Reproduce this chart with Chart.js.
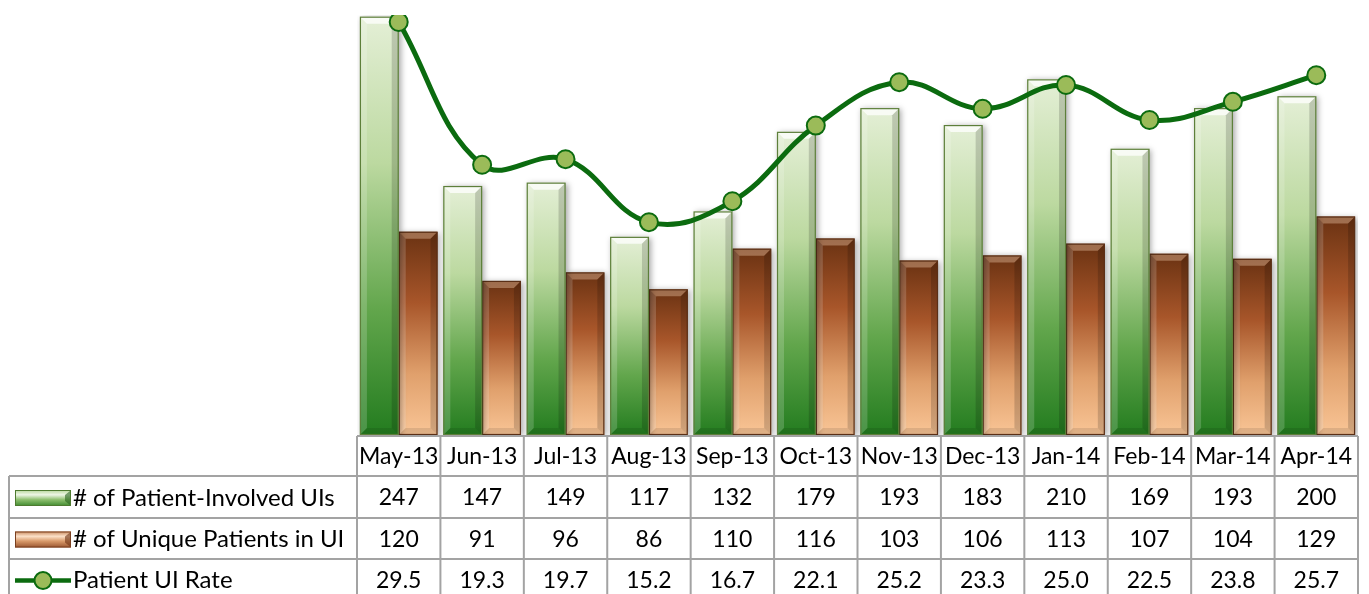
<!DOCTYPE html>
<html>
<head>
<meta charset="utf-8">
<script src="https://cdn.jsdelivr.net/npm/chart.js@4.4.1/dist/chart.umd.min.js"></script>
<style>
html,body{margin:0;padding:0;background:#fff;}
#wrap{width:1369px;height:594px;position:relative;}
</style>
</head>
<body>
<div id="wrap"><canvas id="c" width="1369" height="594"></canvas></div>
<script>
const categories = ['May-13','Jun-13','Jul-13','Aug-13','Sep-13','Oct-13','Nov-13','Dec-13','Jan-14','Feb-14','Mar-14','Apr-14'];
const involvedUIs = [247,147,149,117,132,179,193,183,210,169,193,200];
const uniquePatients = [120,91,96,86,110,116,103,106,113,107,104,129];
const uiRate = [29.5,19.3,19.7,15.2,16.7,22.1,25.2,23.3,25.0,22.5,23.8,25.7];
const seriesNames = ['# of Patient-Involved UIs','# of Unique Patients in UI','Patient UI Rate'];

const CELL_FONT = '23px Lato';
const NAME_FONT = '24px Lato';

function barGradient(ctx, stops, fallback){
  const c = ctx.chart;
  const ys = c.scales && c.scales.y;
  if(!ys || !c.chartArea || ctx.raw === undefined) return fallback;
  const top = ys.getPixelForValue(ctx.raw);
  const bot = ys.getPixelForValue(0);
  if(!isFinite(top) || !isFinite(bot)) return fallback;
  const g = c.ctx.createLinearGradient(0, top, 0, bot);
  stops.forEach(s => g.addColorStop(s[0], s[1]));
  return g;
}
const greenStops = [[0,'#e4efd6'],[0.35,'#bcd9a0'],[0.7,'#62a64c'],[1,'#237c1f']];
const orangeStops = [[0,'#6a3212'],[0.35,'#a8562a'],[0.7,'#e0a06c'],[1,'#f9c596']];

const bevelPlugin = {
  id:'bevel',
  beforeDatasetDraw(chart, args){
    const ds = chart.data.datasets[args.index];
    if(ds.type !== 'bar') return;
    const ctx = chart.ctx;
    ctx.save();
    ctx.shadowColor = 'rgba(0,0,0,0.35)';
    ctx.shadowBlur = 6;
    ctx.shadowOffsetX = 2;
    ctx.shadowOffsetY = 1;
  },
  afterDatasetDraw(chart, args){
    const ds = chart.data.datasets[args.index];
    if(ds.type !== 'bar') return;
    const ctx = chart.ctx;
    ctx.restore();
    const isGreen = ds.label === seriesNames[0];
    const b = 7;
    args.meta.data.forEach(el => {
      const p = el.getProps(['x','y','base','width'], true);
      const L = p.x - p.width/2, R = p.x + p.width/2, T = p.y, B = p.base;
      ctx.save();
      ctx.beginPath();
      ctx.moveTo(L,T); ctx.lineTo(R,T); ctx.lineTo(R-b,T+b); ctx.lineTo(L+b,T+b); ctx.closePath();
      ctx.fillStyle = isGreen ? 'rgba(255,255,255,0.75)' : 'rgba(255,220,190,0.35)';
      ctx.fill();
      ctx.beginPath();
      ctx.moveTo(L,T); ctx.lineTo(L+b,T+b); ctx.lineTo(L+b,B-b); ctx.lineTo(L,B); ctx.closePath();
      ctx.fillStyle = 'rgba(255,255,255,0.18)';
      ctx.fill();
      ctx.beginPath();
      ctx.moveTo(R,T); ctx.lineTo(R-b,T+b); ctx.lineTo(R-b,B-b); ctx.lineTo(R,B); ctx.closePath();
      ctx.fillStyle = 'rgba(0,0,0,0.16)';
      ctx.fill();
      ctx.beginPath();
      ctx.moveTo(L,B); ctx.lineTo(L+b,B-b); ctx.lineTo(R-b,B-b); ctx.lineTo(R,B); ctx.closePath();
      ctx.fillStyle = 'rgba(0,0,0,0.10)';
      ctx.fill();
      ctx.strokeStyle = isGreen ? '#5d7f3a' : '#5a2f16';
      ctx.lineWidth = 1.2;
      ctx.strokeRect(L+0.5, T+0.5, p.width-1, B-T-1);
      ctx.restore();
    });
  }
};

const tablePlugin = {
  id:'dataTable',
  afterDraw(chart){
    const ctx = chart.ctx;
    const xs = chart.scales.x;
    const area = chart.chartArea;
    const n = categories.length;
    const colW = (area.right - area.left) / n;
    const tableLeft = 9;
    const rowTops = [area.bottom + 1, 476, 518, 559, 600];
    ctx.save();
    ctx.strokeStyle = '#a3a3a3';
    ctx.lineWidth = 2;
    ctx.beginPath();
    ctx.moveTo(area.left, rowTops[0]); ctx.lineTo(area.right, rowTops[0]);
    for(let r=1;r<4;r++){ ctx.moveTo(tableLeft, rowTops[r]); ctx.lineTo(area.right, rowTops[r]); }
    for(let i=0;i<=n;i++){
      const x = area.left + i*colW;
      ctx.moveTo(x, rowTops[0]); ctx.lineTo(x, rowTops[4]);
    }
    ctx.moveTo(tableLeft, rowTops[1]); ctx.lineTo(tableLeft, rowTops[4]);
    ctx.stroke();

    ctx.fillStyle = '#000';
    ctx.font = CELL_FONT;
    ctx.textAlign = 'center';
    ctx.textBaseline = 'middle';
    const rows = [categories, involvedUIs.map(String), uniquePatients.map(String), uiRate.map(v=>v.toFixed(1))];
    rows.forEach((row, r) => {
      const cy = (rowTops[r] + rowTops[r+1]) / 2 + 1;
      row.forEach((t, i) => {
        ctx.fillText(t, xs.getPixelForValue(i), cy);
      });
    });
    ctx.textAlign = 'left';
    ctx.font = NAME_FONT;
    const symL = 15, symR = 71;
    for(let r=1;r<=3;r++){
      const cy = (rowTops[r] + rowTops[r+1]) / 2 + 1;
      ctx.fillStyle = '#000';
      ctx.fillText(seriesNames[r-1], 73, cy);
      if(r < 3){
        const top = cy - 8, h = 16;
        const g = ctx.createLinearGradient(0, top, 0, top+h);
        const st = r===1 ? [[0,'#b6d69a'],[0.3,'#eef6e6'],[0.6,'#8fc070'],[1,'#3f8a2e']] : [[0,'#c98a5e'],[0.3,'#fbe0c8'],[0.6,'#d99a6a'],[1,'#9a5530']];
        st.forEach(s=>g.addColorStop(s[0], s[1]));
        ctx.fillStyle = g;
        ctx.fillRect(symL, top, symR-symL, h);
        ctx.strokeStyle = r===1 ? '#4e7a30' : '#7a4020';
        ctx.lineWidth = 1;
        ctx.strokeRect(symL+0.5, top+0.5, symR-symL-1, h-1);
        ctx.fillStyle = r===1 ? 'rgba(40,100,30,0.6)' : 'rgba(110,50,20,0.6)';
        ctx.beginPath(); ctx.moveTo(symR-1,top+1); ctx.lineTo(symR-6,top+5); ctx.lineTo(symR-6,top+h-5); ctx.lineTo(symR-1,top+h-1); ctx.closePath(); ctx.fill();
      } else {
        ctx.strokeStyle = '#0b6b0f';
        ctx.lineWidth = 4.5;
        ctx.beginPath(); ctx.moveTo(symL, cy); ctx.lineTo(symR, cy); ctx.stroke();
        ctx.beginPath(); ctx.arc((symL+symR)/2, cy, 8.5, 0, Math.PI*2);
        ctx.fillStyle = '#9bbb59'; ctx.fill();
        ctx.lineWidth = 2; ctx.stroke();
      }
    }
    ctx.restore();
  }
};

new Chart(document.getElementById('c'), {
  data: {
    labels: categories,
    datasets: [
      {
        type:'line', label: seriesNames[2], data: uiRate, yAxisID:'y1', order:0,
        borderColor:'#0b6b0f', borderWidth:5, tension:0.4,
        pointRadius:9, pointHoverRadius:9, pointBackgroundColor:'#9bbb59', pointBorderColor:'#0b6b0f', pointBorderWidth:2
      },
      {
        type:'bar', label: seriesNames[0], data: involvedUIs, yAxisID:'y', order:1,
        backgroundColor: ctx => barGradient(ctx, greenStops, '#9cc47c'),
        borderWidth:0, categoryPercentage:0.93, barPercentage:1.0
      },
      {
        type:'bar', label: seriesNames[1], data: uniquePatients, yAxisID:'y', order:1,
        backgroundColor: ctx => barGradient(ctx, orangeStops, '#c0622e'),
        borderWidth:0, categoryPercentage:0.93, barPercentage:1.0
      }
    ]
  },
  options: {
    responsive:false,
    animation:false,
    layout:{padding:{left:357, right:5, top:15, bottom:159}},
    plugins:{legend:{display:false}, tooltip:{enabled:false}},
    scales:{
      x:{display:false, offset:true, grid:{display:false}},
      y:{display:false, min:0, max:248},
      y1:{display:false, min:0, max:30, position:'right'}
    }
  },
  plugins:[bevelPlugin, tablePlugin]
});
</script>
</body>
</html>
